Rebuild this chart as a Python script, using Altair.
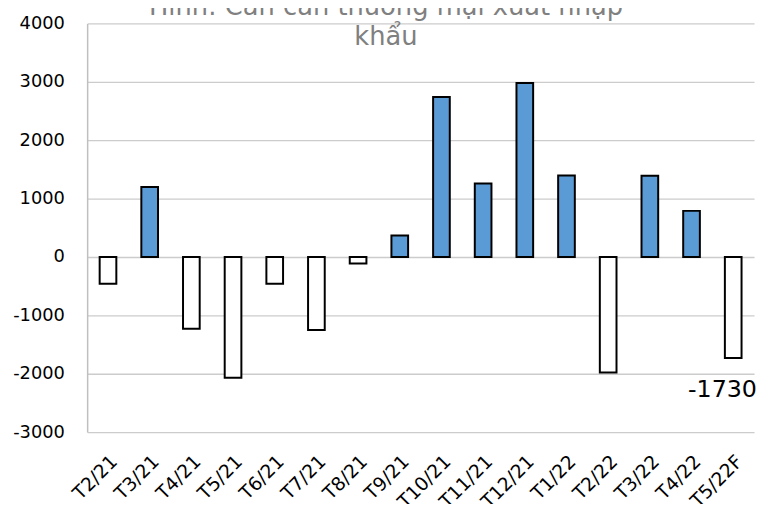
import altair as alt
import pandas as pd

categories = ["T2/21", "T3/21", "T4/21", "T5/21", "T6/21", "T7/21", "T8/21", "T9/21",
              "T10/21", "T11/21", "T12/21", "T1/22", "T2/22", "T3/22", "T4/22", "T5/22F"]
values = [-460, 1200, -1230, -2070, -460, -1250, -110, 370,
          2740, 1260, 2980, 1395, -1980, 1390, 790, -1730]
y_ticks = [-3000, -2000, -1000, 0, 1000, 2000, 3000, 4000]
title_lines = ["Hình: Cán cân thương mại xuất nhập", "khẩu"]
labelled_category = "T5/22F"

df = pd.DataFrame({"cat": categories, "v": values})

FONT = "DejaVu Sans"

x_enc = alt.X(
    "cat:N", sort=categories,
    scale=alt.Scale(paddingInner=0.6, paddingOuter=0.3),
    axis=alt.Axis(title=None, labelAngle=-45, labelFont=FONT, labelFontSize=19,
                  labelColor="black", labelPadding=20, ticks=False, domain=False, grid=False),
)
y_enc = alt.Y(
    "v:Q",
    scale=alt.Scale(domain=[-3000, 4000], nice=False, zero=True),
    axis=alt.Axis(title=None, values=y_ticks, labelExpr="'' + datum.value",
                  labelFont=FONT, labelFontSize=18,
                  labelColor="black", labelPadding=23, ticks=False,
                  domainColor="#bfbfbf", domainWidth=1.5, grid=True,
                  gridColor="#cccccc", gridWidth=1.3),
)

base = alt.Chart(df)

bars = base.mark_bar(stroke="black", strokeWidth=2).encode(
    x=x_enc,
    y=y_enc,
    fill=alt.condition(alt.datum.v > 0, alt.value("#5b9bd5"), alt.value("white")),
)

value_label = base.transform_filter(alt.datum.cat == labelled_category).transform_calculate(
    lbl="'' + datum.v"
).mark_text(
    align="right", baseline="alphabetic", dx=24, dy=39, fontSize=24, font=FONT, color="black"
).encode(x=x_enc, y=y_enc, text="lbl:N")

title1 = alt.Chart(pd.DataFrame({"t": [title_lines[0]]})).mark_text(
    fontSize=26, color="#808080", font=FONT, align="center", baseline="alphabetic"
).encode(x=alt.value(302), y=alt.value(-9), text="t:N")

title2 = alt.Chart(pd.DataFrame({"t": [title_lines[1]]})).mark_text(
    fontSize=26, color="#808080", font=FONT, align="center", baseline="alphabetic"
).encode(x=alt.value(302), y=alt.value(22), text="t:N")

chart = alt.layer(bars, value_label, title1, title2).properties(
    width=674, height=413,
    autosize=alt.AutoSizeParams(type="none"),
    padding={"left": 80, "top": 13, "right": 5, "bottom": 70},
).configure_view(stroke=None)

chart.save("out.html", embed_options={"renderer": "svg", "actions": False})
